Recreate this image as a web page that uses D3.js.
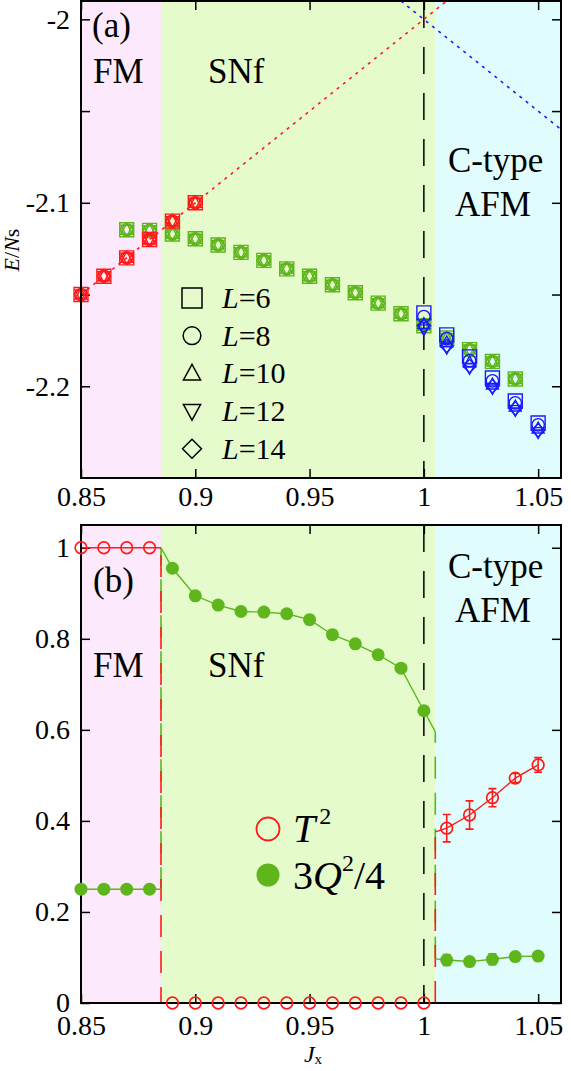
<!DOCTYPE html>
<html><head><meta charset="utf-8">
<script src="https://cdn.jsdelivr.net/npm/d3@7"></script>
<style>
html,body{margin:0;padding:0;background:#fff;}
svg{display:block;}
svg text{font-family:"Liberation Serif","Times New Roman",serif;}
</style></head>
<body><svg id="c" width="571" height="1071"></svg>
<script>
// ---------------- DATA ----------------
const phaseBounds = [0.85, 0.885, 1.005, 1.06];
const phaseColors = ["#fde9fc", "#e5fbcc", "#e0fcfd"];
const sizesL = [6, 8, 10, 12, 14];
const markerShapes = ["square", "circle", "triUp", "triDown", "diamond"];

// panel (a): E/Ns
const xFM = [0.85, 0.86, 0.87, 0.88, 0.89, 0.90];
const eFM = [-2.150, -2.140, -2.130, -2.120, -2.110, -2.100];
const xSNf = [0.87, 0.88, 0.89, 0.90, 0.91, 0.92, 0.93, 0.94, 0.95, 0.96, 0.97, 0.98, 0.99, 1.00, 1.01, 1.02, 1.03, 1.04];
const eSNf = [-2.1147, -2.115, -2.117, -2.1196, -2.123, -2.127, -2.1314, -2.136, -2.140, -2.1447, -2.149, -2.1547, -2.1605, -2.167, -2.1737, -2.180, -2.1865, -2.196];
const xAFM = [1.00, 1.01, 1.02, 1.03, 1.04, 1.05];
const eAFM_L6  = [-2.160, -2.172, -2.184, -2.1955, -2.208, -2.220];
const eAFM_L8  = [-2.162, -2.174, -2.186, -2.197, -2.209, -2.221];
const eAFM_L10 = [-2.166, -2.176, -2.187, -2.199, -2.211, -2.223];
const eAFM_L12 = [-2.169, -2.179, -2.190, -2.201, -2.213, -2.225];
const eAFM_L14 = [-2.167, -2.178, -2.189, -2.200, -2.212, -2.224];
const eAFMbyL = [eAFM_L6, eAFM_L8, eAFM_L10, eAFM_L12, eAFM_L14];
const classicalFM  = [[0.85, -2.15], [1.01, -1.99]];
const classicalAFM = [[0.99, -1.99], [1.06, -2.06]];

// panel (b): order parameters
const xOrder = [0.85, 0.86, 0.87, 0.88, 0.89, 0.90, 0.91, 0.92, 0.93, 0.94, 0.95, 0.96, 0.97, 0.98, 0.99, 1.00, 1.01, 1.02, 1.03, 1.04, 1.05];
const T2 = [1, 1, 1, 1, 0, 0, 0, 0, 0, 0, 0, 0, 0, 0, 0, 0, 0.384, 0.413, 0.451, 0.494, 0.523];
const T2err = [0, 0, 0, 0, 0, 0, 0, 0, 0, 0, 0, 0, 0, 0, 0, 0, 0.030, 0.031, 0.020, 0.010, 0.016];
const Q2 = [0.25, 0.25, 0.25, 0.25, 0.955, 0.8945, 0.874, 0.860, 0.8587, 0.855, 0.842, 0.809, 0.789, 0.765, 0.7355, 0.642, 0.0945, 0.091, 0.096, 0.102, 0.103];
const Q2err = [0, 0, 0, 0, 0, 0, 0, 0, 0, 0, 0, 0, 0, 0, 0, 0, 0.012, 0.004, 0.012, 0.005, 0.005];
// values at the phase boundaries [FM end, SNf start, SNf end, AFM start]
const T2edge = [1, 0, 0, 0.376];
const Q2edge = [0.25, 1.0, 0.596, 0.097];

const xTicks = [0.85, 0.9, 0.95, 1, 1.05];
const xTickLabels = ["0.85", "0.9", "0.95", "1", "1.05"];
const yTicksA = [-2, -2.05, -2.1, -2.15, -2.2];
const yTickLabelsA = ["-2", "", "-2.1", "", "-2.2"];
const yTicksB = [0, 0.2, 0.4, 0.6, 0.8, 1];
const yTickLabelsB = ["0", "0.2", "0.4", "0.6", "0.8", "1"];

// ---------------- DRAW ----------------
const FONT = "Liberation Serif, Times New Roman, serif";
const RED = "#ff1a1a", GREEN = "#5fb61c", BLUE = "#1a1aff";
const svg = d3.select("#c");
const L = 81, R = 561;
const x = d3.scaleLinear([0.85, 1.06], [L, R]);
const yA = d3.scaleLinear([-2.25, -1.99], [478, 1]);
const yB = d3.scaleLinear([0, 1.05], [1003, 525]);

// s = nominal marker size in px
function shapePath(type, s) {
  const h = s / 2;
  switch (type) {
    case "square": return `M${-h},${-h}H${h}V${h}H${-h}Z`;
    case "circle": return d3.symbol(d3.symbolCircle, Math.PI * h * h * 0.78)();
    case "triUp": { const a = h * 0.9; return `M0,${-a}L${a * 0.95},${a * 0.72}H${-a * 0.95}Z`; }
    case "triDown": { const a = h * 0.9; return `M0,${a}L${a * 0.95},${-a * 0.72}H${-a * 0.95}Z`; }
    case "diamond": { const a = h * 0.95; return `M0,${-a}L${a},0L0,${a}L${-a},0Z`; }
  }
}

function styleAxis(a) {
  a.attr("font-family", FONT).attr("font-size", 28);
  a.select(".domain").remove();
  a.selectAll("text").attr("font-size", 28).attr("fill", "#000");
  a.selectAll("line").attr("stroke-width", 1.5);
}

function panelBase(g, y, yTicks, yLabels, top, bottom, labelPadBottom) {
  for (let i = 0; i < 3; i++) {
    g.append("rect").attr("x", x(phaseBounds[i])).attr("y", top)
      .attr("width", x(phaseBounds[i + 1]) - x(phaseBounds[i])).attr("height", bottom - top)
      .attr("fill", phaseColors[i]);
  }
  g.append("g").attr("transform", `translate(0,${bottom})`)
    .call(d3.axisBottom(x).tickValues(xTicks).tickFormat((d, i) => xTickLabels[i]).tickSizeInner(-9).tickSizeOuter(0).tickPadding(labelPadBottom))
    .call(styleAxis);
  g.append("g").attr("transform", `translate(0,${top})`)
    .call(d3.axisTop(x).tickValues(xTicks).tickFormat("").tickSizeInner(-9).tickSizeOuter(0))
    .call(styleAxis);
  g.append("g").attr("transform", `translate(${L},0)`)
    .call(d3.axisLeft(y).tickValues(yTicks).tickFormat((d, i) => yLabels[i]).tickSizeInner(-9).tickSizeOuter(0).tickPadding(11))
    .call(styleAxis);
  g.append("g").attr("transform", `translate(${R},0)`)
    .call(d3.axisRight(y).tickValues(yTicks).tickFormat("").tickSizeInner(-9).tickSizeOuter(0))
    .call(styleAxis);
}
function frame(g, top, bottom) {
  g.append("rect").attr("x", L).attr("y", top).attr("width", R - L).attr("height", bottom - top)
    .attr("fill", "none").attr("stroke", "#000").attr("stroke-width", 2);
}
function phaseText(g, fmY, afmY) {
  const t = (s, xx, yy) => g.append("text").attr("x", xx).attr("y", yy).attr("font-size", 35).text(s);
  t("FM", 93, fmY); t("SNf", 208, fmY);
  t("C-type", 448, afmY); t("AFM", 455, afmY + 44);
}

// ===== Panel (a) =====
const gA = svg.append("g");
svg.append("defs").append("clipPath").attr("id", "clipA").append("rect").attr("x", L).attr("y", 1).attr("width", R - L).attr("height", 477);
panelBase(gA, yA, yTicksA, yTickLabelsA, 1, 478, 8);
gA.append("line").attr("x1", x(1)).attr("x2", x(1)).attr("y1", 1).attr("y2", 478)
  .attr("stroke", "#000").attr("stroke-width", 1.5).attr("stroke-dasharray", "27,19");
const line = d3.line().x(d => x(d[0])).y(d => yA(d[1]));
gA.append("path").attr("clip-path", "url(#clipA)").attr("d", line(classicalFM)).attr("fill", "none")
  .attr("stroke", RED).attr("stroke-width", 1.6).attr("stroke-dasharray", "3,5");
gA.append("path").attr("clip-path", "url(#clipA)").attr("d", line(classicalAFM)).attr("fill", "none")
  .attr("stroke", BLUE).attr("stroke-width", 1.6).attr("stroke-dasharray", "3,5");
phaseText(gA, 83, 172);
gA.append("text").attr("x", 92).attr("y", 37).attr("font-size", 35).text("(a)");

const MS = 14, MW = 1.4;
function markers(g, xs, es, color) {
  markerShapes.forEach(sh => {
    g.selectAll(null).data(xs.map((d, i) => [d, es[i]])).join("path")
      .attr("transform", d => `translate(${x(d[0])},${yA(d[1])})`)
      .attr("d", shapePath(sh, MS)).attr("fill", "none").attr("stroke", color).attr("stroke-width", MW);
  });
}
markers(gA, xSNf, eSNf, GREEN);
markers(gA, xFM, eFM, RED);
markerShapes.forEach((sh, k) => {
  gA.selectAll(null).data(xAFM.map((d, i) => [d, eAFMbyL[k][i]])).join("path")
    .attr("transform", d => `translate(${x(d[0])},${yA(d[1])})`)
    .attr("d", shapePath(sh, MS)).attr("fill", "none").attr("stroke", BLUE).attr("stroke-width", MW);
});
sizesL.forEach((l, i) => {
  const yy = 298 + i * 37.7;
  gA.append("path").attr("transform", `translate(192,${yy})`).attr("d", shapePath(markerShapes[i], 20))
    .attr("fill", "none").attr("stroke", "#000").attr("stroke-width", 1.5);
  const t = gA.append("text").attr("x", 222).attr("y", yy + 10).attr("font-size", 30);
  t.append("tspan").attr("font-style", "italic").text("L");
  t.append("tspan").text("=" + l);
});
frame(gA, 1, 478);
const ylab = svg.append("text").attr("transform", "translate(19,250) rotate(-90)").attr("text-anchor", "middle").attr("font-size", 22);
ylab.append("tspan").attr("font-style", "italic").text("E");
ylab.append("tspan").text("/");
ylab.append("tspan").attr("font-style", "italic").text("N");
ylab.append("tspan").text("s");

// ===== Panel (b) =====
const gB = svg.append("g");
panelBase(gB, yB, yTicksB, yTickLabelsB, 525, 1003, 12);
gB.append("line").attr("x1", x(1)).attr("x2", x(1)).attr("y1", 525).attr("y2", 1003)
  .attr("stroke", "#000").attr("stroke-width", 1.5).attr("stroke-dasharray", "27,19");
const lineB = d3.line().x(d => x(d[0])).y(d => yB(d[1]));
const tFM = phaseBounds[1], tAFM = phaseBounds[2];
gB.append("path").attr("d", lineB([[tFM, Q2edge[0]], [tFM, Q2edge[1]]])).attr("stroke", GREEN).attr("stroke-width", 1.6).attr("stroke-dasharray", "22,14").attr("fill", "none");
gB.append("path").attr("d", lineB([[tFM, T2edge[1]], [tFM, T2edge[0]]])).attr("stroke", RED).attr("stroke-width", 1.6).attr("stroke-dasharray", "22,14").attr("stroke-dashoffset", 6).attr("fill", "none");
gB.append("path").attr("d", lineB([[tAFM, Q2edge[3]], [tAFM, Q2edge[2]]])).attr("stroke", GREEN).attr("stroke-width", 1.6).attr("stroke-dasharray", "22,14").attr("fill", "none");
gB.append("path").attr("d", lineB([[tAFM, T2edge[2]], [tAFM, T2edge[3]]])).attr("stroke", RED).attr("stroke-width", 1.6).attr("stroke-dasharray", "22,14").attr("fill", "none");
function seg(vals, edges, color) {
  const fm = xOrder.map((d, i) => [d, vals[i]]).filter(d => d[0] < tFM);
  const sn = xOrder.map((d, i) => [d, vals[i]]).filter(d => d[0] > tFM && d[0] < tAFM);
  const af = xOrder.map((d, i) => [d, vals[i]]).filter(d => d[0] > tAFM);
  [[...fm, [tFM, edges[0]]], [[tFM, edges[1]], ...sn, [tAFM, edges[2]]], [[tAFM, edges[3]], ...af]].forEach(p => {
    gB.append("path").attr("d", lineB(p)).attr("fill", "none").attr("stroke", color).attr("stroke-width", 1.4);
  });
}
seg(Q2, Q2edge, GREEN);
seg(T2, T2edge, RED);
frame(gB, 525, 1003);
function errbars(vals, errs, color) {
  xOrder.forEach((d, i) => {
    if (errs[i] > 0) {
      const cx = x(d), y1 = yB(vals[i] - errs[i]), y2 = yB(vals[i] + errs[i]);
      gB.append("path").attr("d", `M${cx},${y1}V${y2}M${cx - 4},${y1}H${cx + 4}M${cx - 4},${y2}H${cx + 4}`)
        .attr("stroke", color).attr("stroke-width", 1.6).attr("fill", "none");
    }
  });
}
errbars(Q2, Q2err, GREEN);
errbars(T2, T2err, RED);
gB.selectAll(null).data(xOrder).join("circle").attr("cx", d => x(d)).attr("cy", (d, i) => yB(Q2[i])).attr("r", 6.5).attr("fill", GREEN);
gB.selectAll(null).data(xOrder).join("circle").attr("cx", d => x(d)).attr("cy", (d, i) => yB(T2[i])).attr("r", 5.8).attr("fill", "none").attr("stroke", RED).attr("stroke-width", 1.7);
phaseText(gB, 677, 578);
gB.append("text").attr("x", 93).attr("y", 592).attr("font-size", 35).text("(b)");
gB.append("circle").attr("cx", 268).attr("cy", 829).attr("r", 11.5).attr("fill", "none").attr("stroke", RED).attr("stroke-width", 1.8);
const lt = gB.append("text").attr("x", 293).attr("y", 842).attr("font-size", 40);
lt.append("tspan").attr("font-style", "italic").text("T");
lt.append("tspan").attr("font-size", 24).attr("dy", -18).attr("dx", 4).text("2");
gB.append("circle").attr("cx", 268).attr("cy", 875).attr("r", 11.5).attr("fill", GREEN);
const lq = gB.append("text").attr("x", 293).attr("y", 889).attr("font-size", 40);
lq.append("tspan").text("3");
lq.append("tspan").attr("font-style", "italic").text("Q");
lq.append("tspan").attr("font-size", 24).attr("dy", -18).text("2");
lq.append("tspan").attr("dy", 18).text("/4");
const xl = svg.append("text").attr("x", 313).attr("y", 1062).attr("text-anchor", "middle").attr("font-size", 24);
xl.append("tspan").attr("font-style", "italic").text("J");
xl.append("tspan").attr("font-size", 15).attr("dy", 2).text("x");
</script></body></html>
